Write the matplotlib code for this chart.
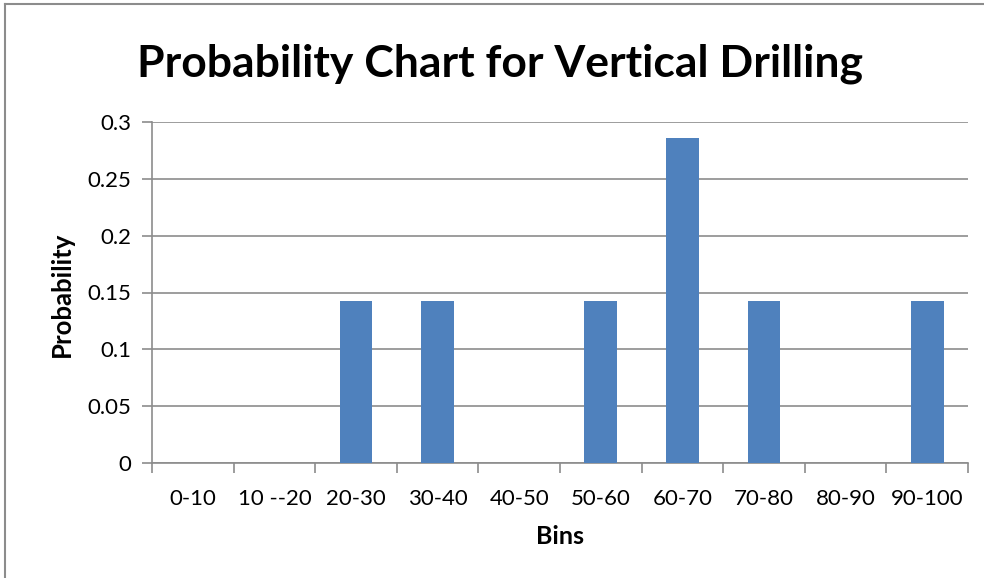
import matplotlib
matplotlib.use("Agg")
import matplotlib.pyplot as plt
from matplotlib.lines import Line2D
import numpy as np

bins = ["0-10", "10 --20", "20-30", "30-40", "40-50", "50-60",
        "60-70", "70-80", "80-90", "90-100"]
probability = [0, 0, 1/7, 1/7, 0, 1/7, 2/7, 1/7, 0, 1/7]
yticks = [0, 0.05, 0.1, 0.15, 0.2, 0.25, 0.3]
ytick_labels = ["0", "0.05", "0.1", "0.15", "0.2", "0.25", "0.3"]

plt.rcParams['font.family'] = ['Lato', 'DejaVu Sans']

W, H = 984, 578
fig = plt.figure(figsize=(W / 100, H / 100), dpi=100)

# chart frame (left and top edges)
frame_color = "#8c8c8c"
fig.add_artist(Line2D([4.5 / W, 4.5 / W], [0, 1 - 3.5 / H],
                      transform=fig.transFigure, color=frame_color, linewidth=1.5))
fig.add_artist(Line2D([4.5 / W, 1], [1 - 3.5 / H, 1 - 3.5 / H],
                      transform=fig.transFigure, color=frame_color, linewidth=1.5))

ax = fig.add_axes([152 / W, 1 - 463 / H, (968 - 152) / W, (463 - 122) / H])
x = np.arange(len(bins))
ax.bar(x, probability, width=0.4, color="#4F81BD", zorder=3)

ax.set_xlim(-0.5, len(bins) - 0.5)
ax.set_ylim(0, 0.3)
ax.set_yticks(yticks)
ax.set_yticklabels(ytick_labels)
ax.yaxis.grid(True, color="#8c8c8c", linewidth=1.2, zorder=0)

ax.set_xticks(np.arange(-0.5, len(bins)), minor=False)
ax.set_xticklabels([])
ax.set_xticks(x, minor=True)
ax.set_xticklabels(bins, minor=True)
ax.tick_params(axis="x", which="major", length=7, width=1.2, color="#8c8c8c")
ax.tick_params(axis="x", which="minor", length=0, pad=19, labelsize=16)
ax.tick_params(axis="y", length=7, width=1.2, color="#8c8c8c", pad=8, labelsize=16)

for s in ["top", "right"]:
    ax.spines[s].set_visible(False)
for s in ["left", "bottom"]:
    ax.spines[s].set_color("#8c8c8c")
    ax.spines[s].set_linewidth(1.2)

fig.text(500 / W, 1 - 64 / H, "Probability Chart for Vertical Drilling",
         ha="center", va="center", fontsize=32, fontweight="bold")
fig.text(62 / W, 1 - 294 / H, "Probability", ha="center", va="center",
         rotation=90, fontsize=18.5, fontweight="bold")
fig.text(560 / W, 1 - 537 / H, "Bins", ha="center", va="center",
         fontsize=18, fontweight="bold")

fig.savefig("out.png", dpi=100)
